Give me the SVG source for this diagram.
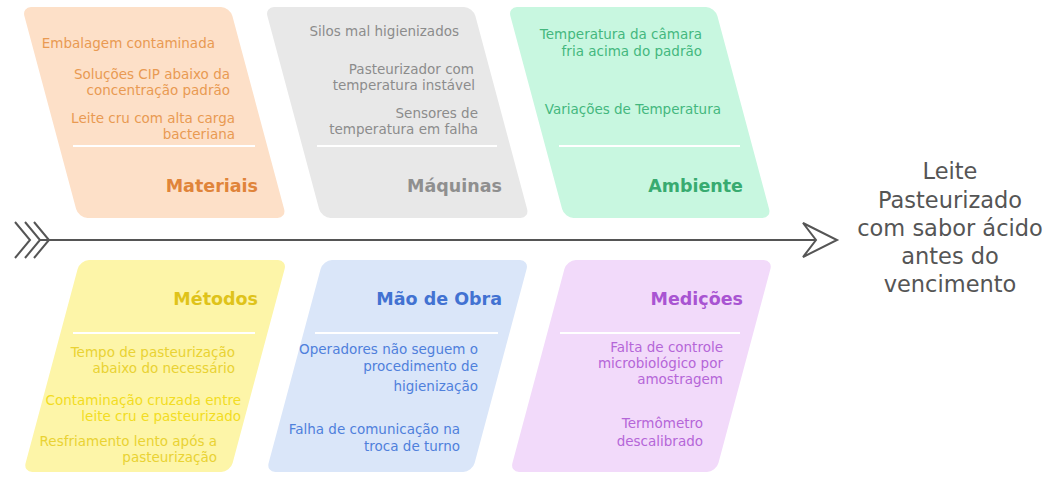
<svg xmlns="http://www.w3.org/2000/svg" width="1057" height="479" viewBox="0 0 1057 479">
<style>
.it{font-family:"DejaVu Sans","Liberation Sans",sans-serif;font-size:13.5px;text-anchor:end}
.tt{font-family:"DejaVu Sans","Liberation Sans",sans-serif;font-size:17.5px;font-weight:bold;text-anchor:end}
.sep{stroke:#ffffff;stroke-width:2}
.spine{stroke:#555555;stroke-width:2;fill:none;stroke-linejoin:miter}
.head{font-family:"DejaVu Sans","Liberation Sans",sans-serif;font-size:22.5px;fill:#555555;text-anchor:middle}
</style>
<rect width="1057" height="479" fill="#ffffff"/>

<g id="connectors">
<polyline class="spine" points="15,222 30,240 15,258"/>
<polyline class="spine" points="25,222 40,240 25,258"/>
<polyline class="spine" points="34,222 49,240 34,258"/>
<line class="spine" x1="40" y1="240" x2="816" y2="240"/>
<path class="spine" d="M803,223 L837,240 L803,257 L816,240 Z"/>
</g>

<g id="materiais">
<rect x="20.1" y="7" width="208" height="211" rx="9" fill="#fde0c8" transform="skewX(15)"/>
<line class="sep" x1="73" y1="146" x2="255" y2="146"/>
<g class="it" fill="#e99a52">
<text x="215" y="48">Embalagem contaminada</text>
<text x="230" y="79">Soluções CIP abaixo da</text>
<text x="230" y="95">concentração padrão</text>
<text x="235" y="123">Leite cru com alta carga</text>
<text x="235" y="139">bacteriana</text>
</g>
<text class="tt" x="258" y="192" fill="#e0843a">Materiais</text>
</g>

<g id="maquinas">
<rect x="263.1" y="7" width="208" height="211" rx="9" fill="#e8e8e8" transform="skewX(15)"/>
<line class="sep" x1="317" y1="146" x2="497" y2="146"/>
<g class="it" fill="#8c8c8c">
<text x="459" y="36">Silos mal higienizados</text>
<text x="474" y="74">Pasteurizador com</text>
<text x="475" y="90">temperatura instável</text>
<text x="478" y="118">Sensores de</text>
<text x="478" y="134">temperatura em falha</text>
</g>
<text class="tt" x="502" y="192" fill="#8f8f8f">Máquinas</text>
</g>

<g id="ambiente">
<rect x="506.1" y="7" width="207" height="211" rx="9" fill="#c8f7e0" transform="skewX(15)"/>
<line class="sep" x1="559" y1="146" x2="740" y2="146"/>
<g class="it" fill="#44b77e">
<text x="702" y="39">Temperatura da câmara</text>
<text x="702" y="56">fria acima do padrão</text>
<text x="721" y="114">Variações de Temperatura</text>
</g>
<text class="tt" x="743" y="192" fill="#38ab70">Ambiente</text>
</g>

<g id="metodos">
<rect x="149.7" y="260" width="207" height="212" rx="9" fill="#fdf5a8" transform="skewX(-15)"/>
<line class="sep" x1="73" y1="333" x2="255" y2="333"/>
<g class="it" fill="#e9d233">
<text x="235" y="357">Tempo de pasteurização</text>
<text x="235" y="373">abaixo do necessário</text>
<text x="241" y="405" fill="#f2dc22">Contaminação cruzada entre</text>
<text x="241" y="421" fill="#f2dc22">leite cru e pasteurizado</text>
<text x="217" y="446">Resfriamento lento após a</text>
<text x="217" y="462">pasteurização</text>
</g>
<text class="tt" x="258" y="305" fill="#dfc31a">Métodos</text>
</g>

<g id="mao-de-obra">
<rect x="392.7" y="260" width="206" height="212" rx="9" fill="#dae6f9" transform="skewX(-15)"/>
<line class="sep" x1="315" y1="333" x2="498" y2="333"/>
<g class="it" fill="#4f80dc">
<text x="478" y="354">Operadores não seguem o</text>
<text x="478" y="371">procedimento de</text>
<text x="478" y="391">higienização</text>
<text x="460" y="434">Falha de comunicação na</text>
<text x="460" y="451">troca de turno</text>
</g>
<text class="tt" x="502" y="305" fill="#4272d2">Mão de Obra</text>
</g>

<g id="medicoes">
<rect x="636.5" y="260" width="206" height="212" rx="9" fill="#f2dafa" transform="skewX(-15)"/>
<line class="sep" x1="560" y1="333" x2="740" y2="333"/>
<g class="it" fill="#b566d8">
<text x="723" y="352">Falta de controle</text>
<text x="723" y="368">microbiológico por</text>
<text x="723" y="384">amostragem</text>
<text x="703" y="428">Termômetro</text>
<text x="703" y="446">descalibrado</text>
</g>
<text class="tt" x="743" y="305" fill="#a954d2">Medições</text>
</g>

<g id="effect">
<text class="head" x="950" y="179">Leite</text>
<text class="head" x="950" y="208">Pasteurizado</text>
<text class="head" x="950" y="236">com sabor ácido</text>
<text class="head" x="950" y="264">antes do</text>
<text class="head" x="950" y="292">vencimento</text>
</g>
</svg>
